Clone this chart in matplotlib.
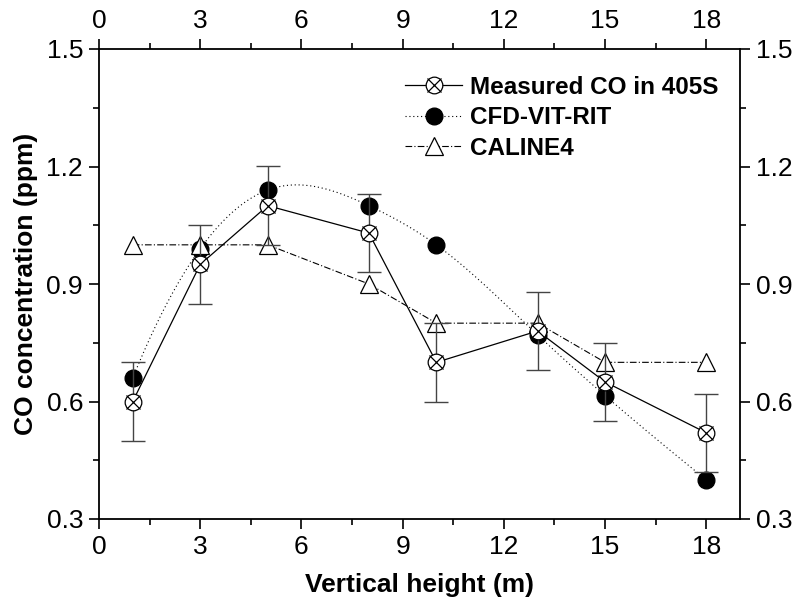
import numpy as np
import matplotlib.pyplot as plt
from matplotlib.ticker import MultipleLocator
from matplotlib.legend_handler import HandlerTuple

plt.rcParams['font.family'] = ['Liberation Sans', 'DejaVu Sans']

heights = [1, 3, 5, 8, 10, 13, 15, 18]
measured = [0.60, 0.95, 1.10, 1.03, 0.70, 0.78, 0.65, 0.52]
measured_err = [0.10, 0.10, 0.10, 0.10, 0.10, 0.10, 0.10, 0.10]
cfd = [0.66, 0.99, 1.14, 1.10, 1.00, 0.77, 0.615, 0.40]
caline = [1.00, 1.00, 1.00, 0.90, 0.80, 0.80, 0.70, 0.70]


def smooth_curve(x, y, n=400):
    # not-a-knot cubic spline, only used to draw the smoothed dotted line
    x = np.asarray(x, float)
    y = np.asarray(y, float)
    k = len(x)
    h = np.diff(x)
    A = np.zeros((k, k))
    b = np.zeros(k)
    A[0, 0], A[0, 1], A[0, 2] = h[1], -(h[0] + h[1]), h[0]
    A[-1, -3], A[-1, -2], A[-1, -1] = h[-1], -(h[-2] + h[-1]), h[-2]
    for i in range(1, k - 1):
        A[i, i - 1] = h[i - 1]
        A[i, i] = 2 * (h[i - 1] + h[i])
        A[i, i + 1] = h[i]
        b[i] = 6 * ((y[i + 1] - y[i]) / h[i] - (y[i] - y[i - 1]) / h[i - 1])
    M = np.linalg.solve(A, b)
    xs = np.linspace(x[0], x[-1], n)
    idx = np.clip(np.searchsorted(x, xs) - 1, 0, k - 2)
    x0, x1 = x[idx], x[idx + 1]
    hh = x1 - x0
    t0 = x1 - xs
    t1 = xs - x0
    ys = (M[idx] * t0 ** 3 / (6 * hh) + M[idx + 1] * t1 ** 3 / (6 * hh)
          + (y[idx] / hh - M[idx] * hh / 6) * t0
          + (y[idx + 1] / hh - M[idx + 1] * hh / 6) * t1)
    return xs, ys


fig = plt.figure(figsize=(7.95, 6.03), dpi=100)
ax = fig.add_axes([99 / 795, 1 - 519 / 603, 641 / 795, 470 / 603])

# CFD
sx, sy = smooth_curve(heights, cfd)
ax.plot(sx, sy, color='black', lw=0.8, ls=(0, (1, 2.5)), zorder=2)
ax.plot(heights, cfd, ls='none', marker='o', ms=12, color='black', zorder=3)
h_cfd, = ax.plot([], [], color='black', lw=0.8, ls=(0, (1, 2.5)),
                 marker='o', ms=12)

# CALINE4
h_cal, = ax.plot(heights, caline, color='black', lw=0.8,
                 ls=(0, (6, 2, 1, 2)), marker='^', ms=13, mfc='white',
                 mec='black', mew=0.9, zorder=4)

# measured
ax.errorbar(heights, measured, yerr=measured_err, fmt='none', ecolor='#444444',
            elinewidth=1.0, capsize=8.5, capthick=1.0, zorder=5)
h_m1, = ax.plot(heights, measured, color='black', lw=0.9, marker='o', ms=12,
                mfc='white', mec='black', mew=0.9, zorder=6)
h_m2, = ax.plot(heights, measured, ls='none', marker='x', ms=9.5,
                mec='black', mew=0.9, zorder=7)

ax.set_xlim(0, 19)
ax.set_ylim(0.3, 1.5)
ax.xaxis.set_major_locator(MultipleLocator(3))
ax.xaxis.set_minor_locator(MultipleLocator(1.5))
ax.yaxis.set_major_locator(MultipleLocator(0.3))
ax.yaxis.set_minor_locator(MultipleLocator(0.15))
ax.yaxis.set_major_formatter(plt.FuncFormatter(lambda v, p: f'{v:.1f}'))

ax.tick_params(which='both', direction='out', top=True, right=True,
               labeltop=True, labelright=True, width=1.2, labelsize=19,
               pad=4)
ax.tick_params(which='major', length=7.5)
ax.tick_params(which='minor', length=4)
for s in ax.spines.values():
    s.set_linewidth(1.3)

ax.set_xlabel('Vertical height (m)', fontsize=19, fontweight='bold',
              labelpad=10)
ax.set_ylabel('CO concentration (ppm)', fontsize=19, fontweight='bold',
              labelpad=6)

leg = ax.legend([(h_m1, h_m2), h_cfd, h_cal],
                ['Measured CO in 405S', 'CFD-VIT-RIT', 'CALINE4'],
                handler_map={tuple: HandlerTuple(ndivide=1, pad=0)},
                loc='upper right', bbox_to_anchor=(718 / 795, 1 - 76 / 603),
                bbox_transform=fig.transFigure, borderpad=0, borderaxespad=0,
                frameon=False, handlelength=2.35, handletextpad=0.3,
                labelspacing=0.3, prop={'weight': 'bold', 'size': 17.5})

fig.savefig('out.png', dpi=100)
